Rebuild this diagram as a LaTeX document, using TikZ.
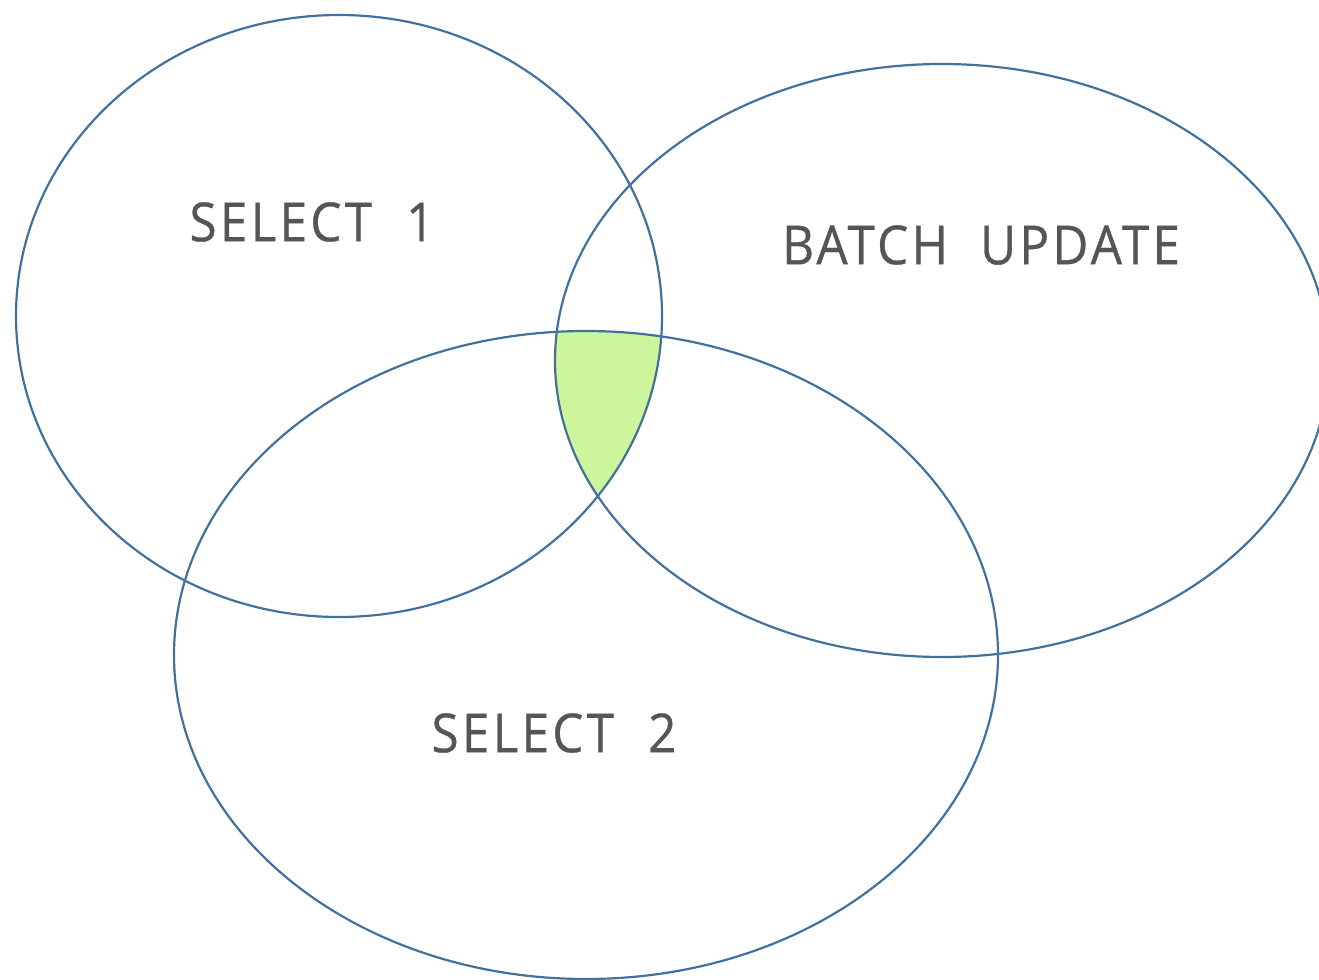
\documentclass[tikz,border=0pt]{standalone}
\usepackage{fontspec}
\setmainfont{Open Sans}
\newfontfamily\labelfont[LetterSpace=6,FakeStretch=0.92,FakeBold=0.6]{Open Sans}
\definecolor{rim}{HTML}{41719C}
\definecolor{overlap}{HTML}{CDF59B}
\definecolor{ink}{HTML}{555555}
\tikzset{
  setrim/.style={draw=rim, line width=2.2bp},
  setlabel/.style={text=ink, font=\labelfont\fontsize{54}{60}\selectfont, inner sep=0pt}
}
\begin{document}
\begin{tikzpicture}[x=1bp, y=-1bp]
  \useasboundingbox (0,0) rectangle (1319,979);
  \clip (0,0) rectangle (1319,979);
  % common region of the three sets
  \begin{scope}
    \clip (339,316) ellipse [x radius=323, y radius=301];
    \clip (942,360.5) ellipse [x radius=387, y radius=296.5];
    \fill[overlap] (586,655) ellipse [x radius=412, y radius=324];
  \end{scope}
  % set outlines
  \draw[setrim] (339,316) ellipse [x radius=323, y radius=301];
  \draw[setrim] (942,360.5) ellipse [x radius=387, y radius=296.5];
  \draw[setrim] (586,655) ellipse [x radius=412, y radius=324];
  % labels
  \node[setlabel] (sel1) at (312,222) {SELECT\hspace{34bp}1};
  \node[setlabel] (batch) at (981,245) {BATCH\hspace{32bp}UPDATE};
  \node[setlabel] (sel2) at (554,733) {SELECT\hspace{34bp}2};
\end{tikzpicture}
\end{document}
